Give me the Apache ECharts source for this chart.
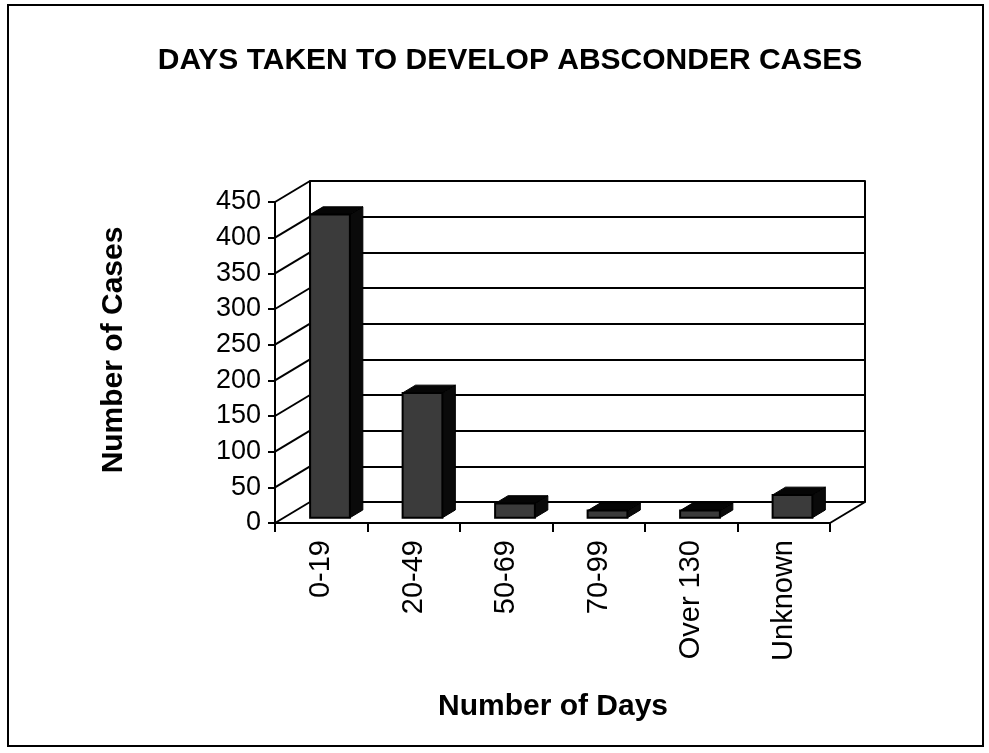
<html>
<head>
<meta charset="UTF-8">
<script src="https://cdn.jsdelivr.net/npm/echarts@6/dist/echarts.min.js"></script>
<style type="text/css">
html,body{margin:0;padding:0;background:#fff;}
#chart{width:989px;height:753px;}
</style>
</head>
<body>
<div id="chart"></div>
<script type="text/javascript">
// data
var categories=['0-19','20-49','50-69','70-99','Over 130','Unknown'];
var cases=[425,175,20,10,10,32];
var yTicks=[0,50,100,150,200,250,300,350,400,450];

var FONT='"Liberation Sans", Arial, Helvetica, sans-serif';
var DX=35,DY=-21;//depth of the 3d box (back wall offset)
var barFront=0.25,barBack=0.62;//bar depth, as share of DX/DY
var barShare=0.43;//bar width, share of the category band

var dom=document.getElementById('chart');
var myChart=echarts.init(dom);

function wallLines(params,api){
	var cs=params.coordSys;
	var v=api.value(1);
	var y=api.coord([0,v])[1];
	var kids=[{type:'line',shape:{x1:cs.x,y1:y,x2:cs.x+DX,y2:y+DY},style:{stroke:'#000',lineWidth:2}}];
	if(v===0){
		kids.push({type:'line',shape:{x1:cs.x+cs.width,y1:y,x2:cs.x+cs.width+DX,y2:y+DY},style:{stroke:'#000',lineWidth:2}});
	}
	return {type:'group',children:kids};
}

function box3d(params,api){
	var i=api.value(0);
	var base=api.coord([i,0]);
	var top=api.coord([i,api.value(1)]);
	var band=api.size([1,0])[0];
	var w=band*barShare;
	var xL=base[0]-w/2+barFront*DX;
	var yB=base[1]+barFront*DY;
	var yT=top[1]+barFront*DY;
	var dx=(barBack-barFront)*DX,dy=(barBack-barFront)*DY;
	return {type:'group',children:[
		{type:'polygon',shape:{points:[[xL+w,yT],[xL+w+dx,yT+dy],[xL+w+dx,yB+dy],[xL+w,yB]]},style:{fill:'#0a0a0a',stroke:'#000',lineWidth:1}},
		{type:'polygon',shape:{points:[[xL,yT],[xL+w,yT],[xL+w+dx,yT+dy],[xL+dx,yT+dy]]},style:{fill:'#050505',stroke:'#000',lineWidth:1}},
		{type:'rect',shape:{x:xL,y:yT,width:w,height:yB-yT},style:{fill:'#3b3b3b',stroke:'#000',lineWidth:2}}
	]};
}

var option={
	animation:false,
	backgroundColor:'#fff',
	grid:[
		{left:310,top:181,width:555,height:321},
		{left:275,top:202,width:555,height:321}
	],
	xAxis:[
		{gridIndex:0,type:'category',data:categories,show:false},
		{gridIndex:1,type:'category',data:categories,
		 axisLine:{lineStyle:{color:'#000',width:2}},
		 axisTick:{show:true,length:9,lineStyle:{color:'#000',width:2}},
		 axisLabel:{rotate:90,margin:17,color:'#000',fontSize:29,fontFamily:FONT}}
	],
	yAxis:[
		{gridIndex:0,type:'value',min:0,max:450,interval:50,
		 axisLine:{show:true,lineStyle:{color:'#000',width:2}},axisTick:{show:false},axisLabel:{show:false},
		 splitLine:{show:true,lineStyle:{color:'#000',width:2}}},
		{gridIndex:0,type:'value',min:0,max:450,interval:50,position:'right',
		 axisLine:{show:true,lineStyle:{color:'#000',width:2}},axisTick:{show:false},axisLabel:{show:false},splitLine:{show:false}},
		{gridIndex:1,type:'value',min:0,max:450,interval:50,
		 axisLine:{show:true,lineStyle:{color:'#000',width:2}},
		 axisTick:{show:true,length:7,lineStyle:{color:'#000',width:2}},
		 axisLabel:{margin:14,color:'#000',fontSize:27,fontFamily:FONT},
		 splitLine:{show:false}}
	],
	graphic:[
		{type:'rect',shape:{x:8,y:5,width:975,height:741},style:{fill:null,stroke:'#000',lineWidth:2},silent:true},
		{type:'text',x:510,y:61,style:{text:'DAYS TAKEN TO DEVELOP ABSCONDER CASES',font:'bold 30px '+FONT,fill:'#000',textAlign:'center',textVerticalAlign:'middle'}},
		{type:'text',x:114,y:350,rotation:Math.PI/2,style:{text:'Number of Cases',font:'bold 30px '+FONT,fill:'#000',textAlign:'center',textVerticalAlign:'middle'}},
		{type:'text',x:553,y:707,style:{text:'Number of Days',font:'bold 30px '+FONT,fill:'#000',textAlign:'center',textVerticalAlign:'middle'}}
	],
	series:[
		{type:'custom',xAxisIndex:1,yAxisIndex:2,renderItem:wallLines,
		 data:yTicks.map(function(v){return [0,v];}),silent:true,z:1},
		{type:'custom',xAxisIndex:1,yAxisIndex:2,renderItem:box3d,
		 data:cases.map(function(v,i){return [i,v];}),z:3}
	]
};
myChart.setOption(option);
</script>
</body>
</html>
